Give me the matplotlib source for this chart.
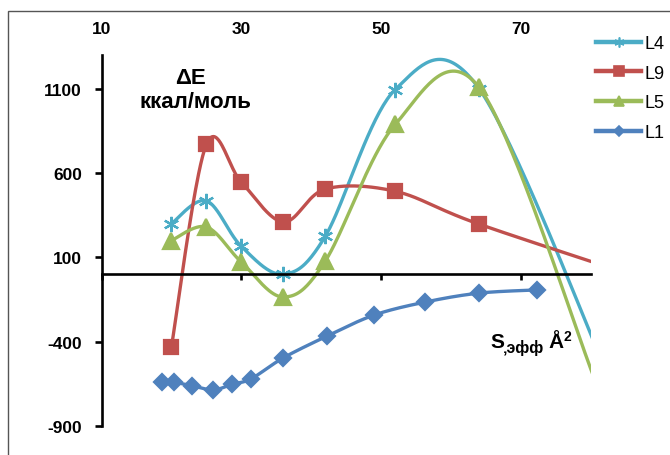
import numpy as np
import matplotlib
matplotlib.use("Agg")
import matplotlib.pyplot as plt
from matplotlib.lines import Line2D
from matplotlib.patches import Rectangle

plt.rcParams['font.family'] = ['Liberation Sans', 'DejaVu Sans']
plt.rcParams['axes.unicode_minus'] = False

# series values (last point of L4/L9/L5 lies past the x axis end)
x_l4 = [20, 25, 30, 36, 42, 52, 64, 84]
l4 = [300, 435, 165, 0, 225, 1095, 1100, -760]
x_l9 = [20, 25, 30, 36, 42, 52, 64, 90]
l9 = [-430, 770, 545, 310, 505, 492, 297, -60]
x_l5 = [20, 25, 30, 36, 42, 52, 64, 80.5]
l5 = [200, 280, 72, -135, 78, 888, 1108, -620]
x_l1 = [18.7, 20.3, 23, 26, 28.7, 31.4, 36, 42.3, 49, 56.3, 64, 72.3]
l1 = [-638, -640, -662, -686, -652, -620, -496, -366, -242, -165, -112, -93]

xticks = [10, 30, 50, 70]
yticks = [-900, -400, 100, 600, 1100]
x_max = 80

c_l4 = '#4BACC6'
c_l9 = '#C0504D'
c_l5 = '#9BBB59'
c_l1 = '#4F81BD'
star = (6, 2, 0)


def smooth(xs, ys, n=40):
    # excel-like smoothed line: bezier with catmull-rom control points
    p = np.column_stack([xs, ys]).astype(float)
    pe = np.vstack([p[0], p, p[-1]])
    t = np.linspace(0, 1, n)[1:, None]
    out = [p[:1]]
    for i in range(len(p) - 1):
        p0, p1, p2, p3 = pe[i], pe[i + 1], pe[i + 2], pe[i + 3]
        c1 = p1 + (p2 - p0) / 6
        c2 = p2 - (p3 - p1) / 6
        seg = (1 - t)**3 * p1 + 3 * (1 - t)**2 * t * c1 + 3 * (1 - t) * t**2 * c2 + t**3 * p2
        out.append(seg)
    out = np.vstack(out)
    return out[:, 0], out[:, 1]


W, H = 670, 456
fig = plt.figure(figsize=(W / 100, H / 100), dpi=100)
ax = fig.add_axes([101.5 / W, 1 - 427 / H, (591 - 101.5) / W, (427 - 56) / H])

series = [
    (x_l4, l4, c_l4, star, 11, 'L4'),
    (x_l9, l9, c_l9, 's', 10.5, 'L9'),
    (x_l5, l5, c_l5, '^', 11, 'L5'),
    (x_l1, l1, c_l1, 'D', 7.8, 'L1'),
]
handles = []
for xs, ys, col, mk, ms, name in series:
    sx, sy = smooth(xs, ys)
    ax.plot(sx, sy, color=col, lw=2.4, solid_capstyle='round')
    vis = np.array(xs) <= x_max
    ax.plot(np.array(xs)[vis], np.array(ys)[vis], ls='none', marker=mk, ms=ms,
            color=col, mec=col, mew=1.6)
    handles.append(Line2D([], [], color=col, lw=3.2, marker=mk,
                          ms=ms * 0.65, mec=col, mew=1.2, label=name))

ax.set_xlim(10, x_max)
ax.set_ylim(-900, 1300)
ax.set_yticks(yticks)
ax.set_xticks(xticks)

for s in ['top', 'right']:
    ax.spines[s].set_visible(False)
ax.spines['bottom'].set_position(('data', 0))
ax.spines['bottom'].set_linewidth(1.9)
ax.spines['left'].set_linewidth(1.9)
ax.tick_params(axis='x', direction='out', length=4, width=1.9, labelbottom=False,
               top=False, labeltop=False)
ax.tick_params(axis='y', direction='out', length=5, width=1.9, pad=9,
               labelsize=12.5)
for lab in ax.get_yticklabels():
    lab.set_fontweight('bold')

top = ax.secondary_xaxis('top')
top.set_xticks(xticks)
top.spines['top'].set_visible(False)
top.tick_params(length=0, pad=13.5, labelsize=12.5)
for lab in top.get_xticklabels():
    lab.set_fontweight('bold')

# axis captions
fig.text(190 / W, 1 - 78 / H, 'ΔE', ha='center', va='center',
         fontsize=16, fontweight='bold')
fig.text(195 / W, 1 - 103 / H, 'ккал/моль', ha='center', va='center',
         fontsize=16, fontweight='bold')
fig.text(490 / W, 1 - 348 / H, 'S', ha='left', va='baseline',
         fontsize=15, fontweight='bold')
fig.text(503 / W, 1 - 353 / H, '‚эфф', ha='left', va='baseline',
         fontsize=11.5, fontweight='bold')
fig.text(548 / W, 1 - 348 / H, 'Å', ha='left', va='baseline',
         fontsize=15, fontweight='bold')
fig.text(563 / W, 1 - 341 / H, '2', ha='left', va='baseline',
         fontsize=10, fontweight='bold')

fig.legend(handles=handles, loc='upper left', bbox_to_anchor=(596 / W, 1 - 36 / H),
           frameon=False, fontsize=13, handlelength=2.5, handletextpad=0.2,
           labelspacing=0.7, borderpad=0, borderaxespad=0)

fig.add_artist(Rectangle((8 / W, -0.5), 2, 1.5 - 11.5 / H, transform=fig.transFigure,
                         fill=False, edgecolor='#555555', lw=1))

fig.savefig('out.png', dpi=100)
